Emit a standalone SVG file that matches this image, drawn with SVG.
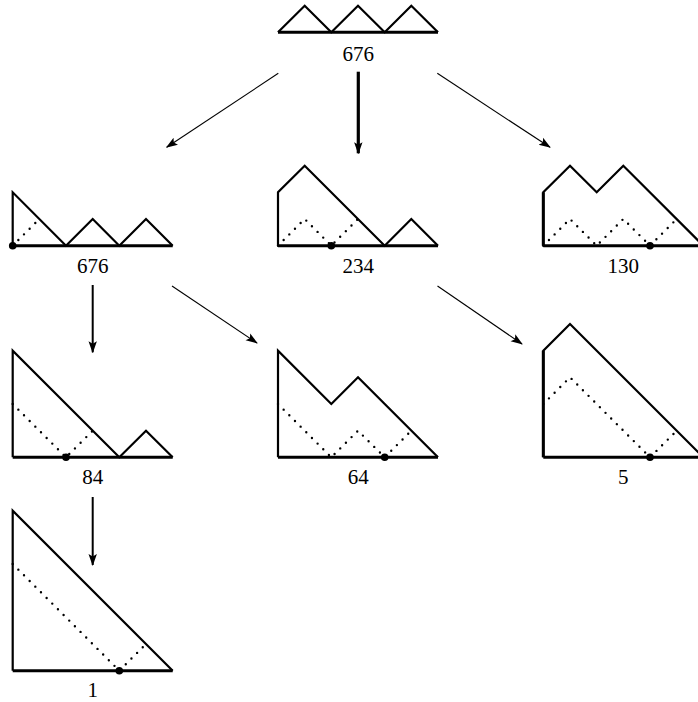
<svg xmlns="http://www.w3.org/2000/svg" width="698" height="702" viewBox="0 0 698 702">
  <style>
    .base { stroke: #000; stroke-width: 3; fill: none; }
    .path { stroke: #000; stroke-width: 2.2; fill: none; stroke-linejoin: miter; }
    .dots { stroke: #000; stroke-width: 2.4; fill: none; stroke-linecap: round; stroke-dasharray: 0 8; }
    .pt { fill: #000; }
    .lbl { font-family: "Liberation Serif", "DejaVu Serif", serif; font-size: 21px; text-anchor: middle; fill: #000; }
    .edge { stroke: #000; fill: none; }
  </style>
  <defs>
    <marker id="head" markerUnits="userSpaceOnUse" viewBox="0 0 12 10" refX="11" refY="5" markerWidth="12" markerHeight="10" orient="auto">
      <path d="M0,0.8 L12,5 L0,9.2 L2.5,5 Z" fill="#000"/>
    </marker>
  </defs>

  <!-- connectors -->
  <g id="edges">
    <line class="edge" x1="358.3" y1="71.7" x2="358.3" y2="153.3" stroke-width="3.2" marker-end="url(#head)"/>
    <line class="edge" x1="278.3" y1="73.3" x2="166.7" y2="147.3" stroke-width="1.1" marker-end="url(#head)"/>
    <line class="edge" x1="437.3" y1="73.3" x2="550" y2="147.3" stroke-width="1.1" marker-end="url(#head)"/>
    <line class="edge" x1="92.7" y1="285" x2="92.7" y2="352.3" stroke-width="2" marker-end="url(#head)"/>
    <line class="edge" x1="172" y1="286" x2="257" y2="343" stroke-width="1.1" marker-end="url(#head)"/>
    <line class="edge" x1="437.5" y1="286" x2="522" y2="344" stroke-width="1.1" marker-end="url(#head)"/>
    <line class="edge" x1="92.7" y1="497" x2="92.7" y2="565" stroke-width="2" marker-end="url(#head)"/>
  </g>

  <!-- root: three peaks -->
  <g id="n-root">
    <line class="base" x1="278" y1="32.3" x2="438" y2="32.3"/>
    <path class="path" d="M278,32.3 L304.7,5.7 L331.3,32.3 L358,5.7 L384.7,32.3 L411.3,5.7 L438,32.3"/>
    <text class="lbl" x="358.3" y="61">676</text>
  </g>

  <g id="n-676">
    <line class="base" x1="12.7" y1="245.7" x2="172.7" y2="245.7"/>
    <path class="path" d="M12.7,245.7 V192.3 L66,245.7 L92.7,219 L119.3,245.7 L146,219 L172.7,245.7"/>
    <path class="dots" d="M12.7,245.7 L39.3,219"/>
    <circle class="pt" cx="12.7" cy="245.7" r="3.8"/>
    <text class="lbl" x="92.7" y="272.5">676</text>
  </g>

  <g id="n-234">
    <line class="base" x1="278" y1="245.7" x2="438" y2="245.7"/>
    <path class="path" d="M278,245.7 V192.3 L304.7,165.7 L384.7,245.7 L411.3,219 L438,245.7"/>
    <path class="dots" d="M278,245.7 L304.7,219 L331.3,245.7 L358,219"/>
    <circle class="pt" cx="331.3" cy="245.7" r="3.8"/>
    <text class="lbl" x="358.3" y="272.5">234</text>
  </g>

  <g id="n-130">
    <line class="base" x1="543.3" y1="245.7" x2="703.3" y2="245.7"/>
    <path class="path" d="M543.3,245.7 V192.3 L570,165.7 L596.7,192.3 L623.3,165.7 L703.3,245.7"/>
    <line class="base" x1="543.3" y1="245.7" x2="543.3" y2="192.3"/>
    <path class="dots" d="M543.3,245.7 L570,219 L596.7,245.7 L623.3,219 L650,245.7 L676.7,219"/>
    <circle class="pt" cx="650" cy="245.7" r="3.8"/>
    <text class="lbl" x="623.3" y="272.5">130</text>
  </g>

  <g id="n-84">
    <line class="base" x1="12.7" y1="457.3" x2="172.7" y2="457.3"/>
    <path class="path" d="M12.7,457.3 V350.7 L119.3,457.3 L146,430.7 L172.7,457.3"/>
    <path class="dots" d="M12.7,404 L66,457.3 L92.7,430.7"/>
    <circle class="pt" cx="66" cy="457.3" r="3.8"/>
    <text class="lbl" x="92.7" y="484">84</text>
  </g>

  <g id="n-64">
    <line class="base" x1="278" y1="457.3" x2="438" y2="457.3"/>
    <path class="path" d="M278,457.3 V350.7 L331.3,404 L358,377.3 L438,457.3"/>
    <path class="dots" d="M278,404 L331.3,457.3 L358,430.7 L384.7,457.3 L411.3,430.7"/>
    <circle class="pt" cx="384.7" cy="457.3" r="3.8"/>
    <text class="lbl" x="358.3" y="484">64</text>
  </g>

  <g id="n-5">
    <line class="base" x1="543.3" y1="457.3" x2="703.3" y2="457.3"/>
    <path class="path" d="M543.3,457.3 V350.7 L570,324 L703.3,457.3"/>
    <line class="base" x1="543.3" y1="457.3" x2="543.3" y2="350.7"/>
    <path class="dots" d="M543.3,404 L570,377.3 L650,457.3 L676.7,430.7"/>
    <circle class="pt" cx="650" cy="457.3" r="3.8"/>
    <text class="lbl" x="623.3" y="484">5</text>
  </g>

  <g id="n-1">
    <line class="base" x1="12.7" y1="670.7" x2="172.7" y2="670.7"/>
    <path class="path" d="M12.7,670.7 V510.7 L172.7,670.7"/>
    <path class="dots" d="M12.7,564 L119.3,670.7 L146,644"/>
    <circle class="pt" cx="119.3" cy="670.7" r="3.8"/>
    <text class="lbl" x="92.7" y="697">1</text>
  </g>
</svg>
